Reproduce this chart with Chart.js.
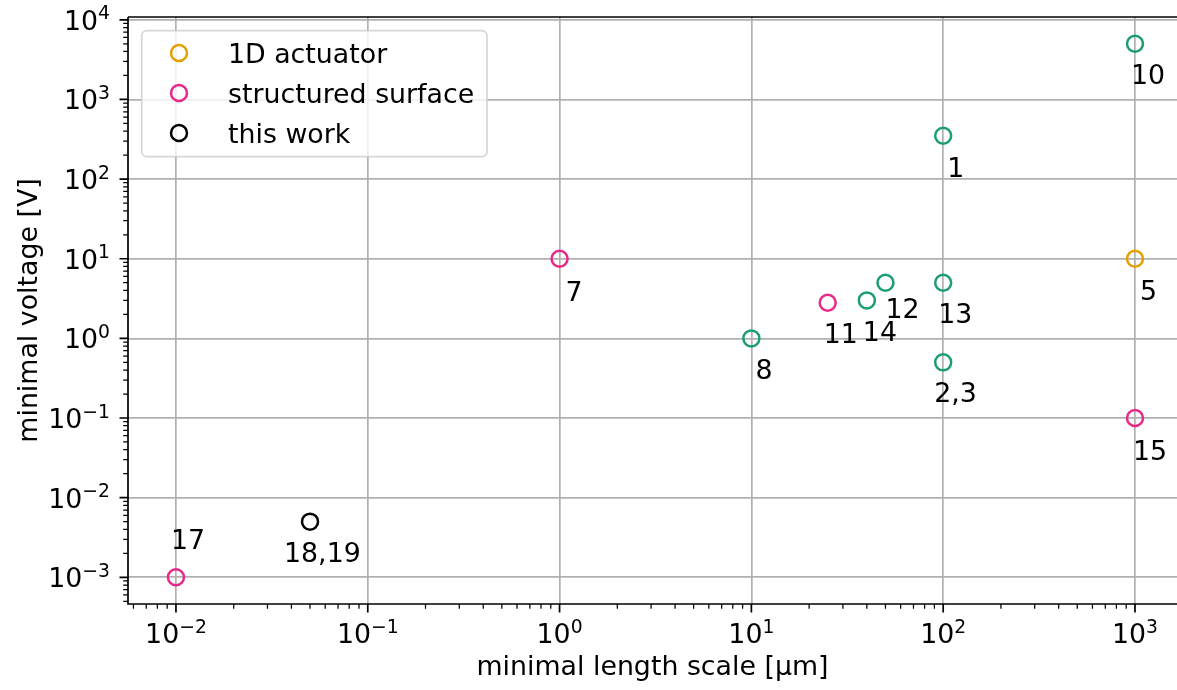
<!DOCTYPE html>
<html lang="en">

<head>
    <meta charset="UTF-8">
    <title>Minimal voltage vs minimal length scale</title>
    <script src="https://cdn.jsdelivr.net/npm/chart.js"></script>
    <style>
        body,
        html {
            margin: 0;
            background: #fff;
            overflow: hidden;
        }

        #wrap {
            width: 1177px;
            height: 690px;
        }
    </style>
</head>

<body>
    <div id="wrap"><canvas id="scatterChart"></canvas></div>
    <script>
        // length scale in µm, voltage in V, reference numbers next to each point
        const actuatorX = [1000];
        const actuatorY = [10];
        const actuatorRefs = ['5'];

        const surfaceX = [1, 25, 1000, 0.01];
        const surfaceY = [10, 2.8, 0.1, 0.001];
        const surfaceRefs = ['7', '11', '15', '17'];

        const workX = [0.05];
        const workY = [0.005];
        const workRefs = ['18,19'];

        const otherX = [100, 1000, 10, 40, 50, 100, 100];
        const otherY = [350, 5000, 1, 3, 5, 5, 0.5];
        const otherRefs = ['1', '10', '8', '14', '12', '13', '2,3'];

        const xDecades = [-2, -1, 0, 1, 2, 3];
        const yDecades = [-3, -2, -1, 0, 1, 2, 3, 4];

        const xTitle = 'minimal length scale [µm]';
        const yTitle = 'minimal voltage [V]';

        const FONT = '"DejaVu Sans", Verdana, sans-serif';
        const FS = 26.8;

        // where each reference number sits relative to its marker (px)
        const refOffset = {
            '1': [4, 41], '10': [-4, 40], '7': [6, 42], '5': [5, 41],
            '12': [0, 35], '13': [-5, 40], '14': [-4, 41], '11': [-4, 40],
            '8': [4, 41], '2,3': [-9, 40], '15': [-2, 42], '17': [-5, -28],
            '18,19': [-26, 40]
        };

        function points(xs, ys) {
            return xs.map((x, i) => ({ x: x, y: ys[i] }));
        }

        function makeSet(label, xs, ys, refs, color, inLegend) {
            return {
                label: label,
                data: points(xs, ys),
                refs: refs,
                inLegend: inLegend,
                borderColor: color,
                backgroundColor: 'rgba(0,0,0,0)',
                pointRadius: 8,
                pointHoverRadius: 8,
                pointBorderWidth: 2.5,
                pointHoverBorderWidth: 2.5
            };
        }

        const datasets = [
            makeSet('1D actuator', actuatorX, actuatorY, actuatorRefs, '#e69f00', true),
            makeSet('structured surface', surfaceX, surfaceY, surfaceRefs, '#e7298a', true),
            makeSet('this work', workX, workY, workRefs, '#000000', true),
            makeSet('other', otherX, otherY, otherRefs, '#1b9e77', false)
        ];

        function minorValues(lo, hi) {
            const out = [];
            for (let e = Math.floor(lo) - 1; e <= Math.ceil(hi); e++) {
                for (let m = 2; m <= 9; m++) {
                    const v = m * Math.pow(10, e);
                    const l = Math.log10(v);
                    if (l > lo && l < hi) out.push(v);
                }
            }
            return out;
        }

        // "10" with a raised exponent, like mathtext
        function drawPower(ctx, exp, x, baseline, align) {
            const base = '10';
            const sup = exp < 0 ? '\u2212' + (-exp) : String(exp);
            ctx.font = FS + 'px ' + FONT;
            const wb = ctx.measureText(base).width;
            ctx.font = (FS * 0.7) + 'px ' + FONT;
            const ws = ctx.measureText(sup).width;
            const total = wb + ws;
            const start = align === 'center' ? x - total / 2 : x - total;
            ctx.textAlign = 'left';
            ctx.textBaseline = 'alphabetic';
            ctx.font = FS + 'px ' + FONT;
            ctx.fillText(base, start, baseline);
            ctx.font = (FS * 0.7) + 'px ' + FONT;
            ctx.fillText(sup, start + wb, baseline - 10.5);
        }

        const decor = {
            id: 'decor',
            afterDraw(chart) {
                const ctx = chart.ctx;
                const a = chart.chartArea;
                const xs = chart.scales.x;
                const ys = chart.scales.y;
                ctx.save();
                ctx.fillStyle = '#000';
                ctx.strokeStyle = '#000';

                // spines
                ctx.lineWidth = 1.7;
                ctx.beginPath();
                ctx.moveTo(a.left, a.top);
                ctx.lineTo(a.left, a.bottom);
                ctx.lineTo(a.right, a.bottom);
                ctx.moveTo(a.left, a.top);
                ctx.lineTo(a.right, a.top);
                ctx.stroke();

                // major ticks
                ctx.lineWidth = 1.7;
                ctx.beginPath();
                xDecades.forEach(e => {
                    const px = xs.getPixelForValue(Math.pow(10, e));
                    ctx.moveTo(px, a.bottom);
                    ctx.lineTo(px, a.bottom + 8.5);
                });
                yDecades.forEach(e => {
                    const py = ys.getPixelForValue(Math.pow(10, e));
                    ctx.moveTo(a.left, py);
                    ctx.lineTo(a.left - 8.5, py);
                });
                ctx.stroke();

                // minor ticks
                ctx.lineWidth = 1.25;
                ctx.beginPath();
                minorValues(Math.log10(xs.min), Math.log10(xs.max)).forEach(v => {
                    const px = xs.getPixelForValue(v);
                    ctx.moveTo(px, a.bottom);
                    ctx.lineTo(px, a.bottom + 4.8);
                });
                minorValues(Math.log10(ys.min), Math.log10(ys.max)).forEach(v => {
                    const py = ys.getPixelForValue(v);
                    ctx.moveTo(a.left, py);
                    ctx.lineTo(a.left - 4.8, py);
                });
                ctx.stroke();

                // tick labels
                xDecades.forEach(e => {
                    drawPower(ctx, e, xs.getPixelForValue(Math.pow(10, e)), a.bottom + 39, 'center');
                });
                yDecades.forEach(e => {
                    drawPower(ctx, e, 110, ys.getPixelForValue(Math.pow(10, e)) + 10, 'right');
                });

                // axis titles
                ctx.font = FS + 'px ' + FONT;
                ctx.textAlign = 'center';
                ctx.textBaseline = 'alphabetic';
                ctx.fillText(xTitle, (a.left + a.right) / 2, 675);
                ctx.save();
                ctx.translate(37, (a.top + a.bottom) / 2);
                ctx.rotate(-Math.PI / 2);
                ctx.fillText(yTitle, 0, 0);
                ctx.restore();

                // reference numbers
                ctx.textAlign = 'left';
                chart.data.datasets.forEach((ds, di) => {
                    const meta = chart.getDatasetMeta(di);
                    meta.data.forEach((pt, i) => {
                        const ref = ds.refs[i];
                        const off = refOffset[ref] || [0, 40];
                        ctx.fillText(ref, pt.x + off[0], pt.y + off[1]);
                    });
                });

                // legend
                const lx = 141.7, ly = 30.7, lw = 345.3, lh = 126, r = 5;
                ctx.beginPath();
                ctx.roundRect(lx, ly, lw, lh, r);
                ctx.fillStyle = 'rgba(255,255,255,0.8)';
                ctx.fill();
                ctx.lineWidth = 1.7;
                ctx.strokeStyle = 'rgba(204,204,204,0.8)';
                ctx.stroke();
                let row = 0;
                chart.data.datasets.forEach(ds => {
                    if (!ds.inLegend) return;
                    const cy = 53 + row * 40;
                    ctx.beginPath();
                    ctx.arc(179, cy, 8, 0, Math.PI * 2);
                    ctx.lineWidth = 2.5;
                    ctx.strokeStyle = ds.borderColor;
                    ctx.stroke();
                    ctx.fillStyle = '#000';
                    ctx.font = FS + 'px ' + FONT;
                    ctx.textAlign = 'left';
                    ctx.fillText(ds.label, 228, cy + 9.7);
                    row++;
                });
                ctx.restore();
            }
        };

        function decadeTicks(list) {
            return function (scale) {
                scale.ticks = list.map(e => ({ value: Math.pow(10, e), major: true }));
            };
        }

        const axisCommon = {
            type: 'logarithmic',
            ticks: { display: false },
            border: { display: false },
            grid: { color: '#b0b0b0', lineWidth: 1.7, drawTicks: false }
        };

        new Chart(document.getElementById('scatterChart'), {
            type: 'scatter',
            data: { datasets: datasets },
            options: {
                responsive: true,
                maintainAspectRatio: false,
                animation: false,
                devicePixelRatio: 1,
                layout: { autoPadding: false, padding: { left: 128, top: 17, right: 0, bottom: 86 } },
                plugins: {
                    legend: { display: false },
                    tooltip: { enabled: false }
                },
                events: [],
                scales: {
                    x: Object.assign({}, axisCommon, {
                        min: Math.pow(10, -2.25),
                        max: Math.pow(10, 3.219),
                        afterBuildTicks: decadeTicks(xDecades),
                        afterFit(s) { s.height = 0; }
                    }),
                    y: Object.assign({}, axisCommon, {
                        min: Math.pow(10, -3.335),
                        max: Math.pow(10, 4.035),
                        afterBuildTicks: decadeTicks(yDecades),
                        afterFit(s) { s.width = 0; }
                    })
                }
            },
            plugins: [decor]
        });
    </script>
</body>

</html>
